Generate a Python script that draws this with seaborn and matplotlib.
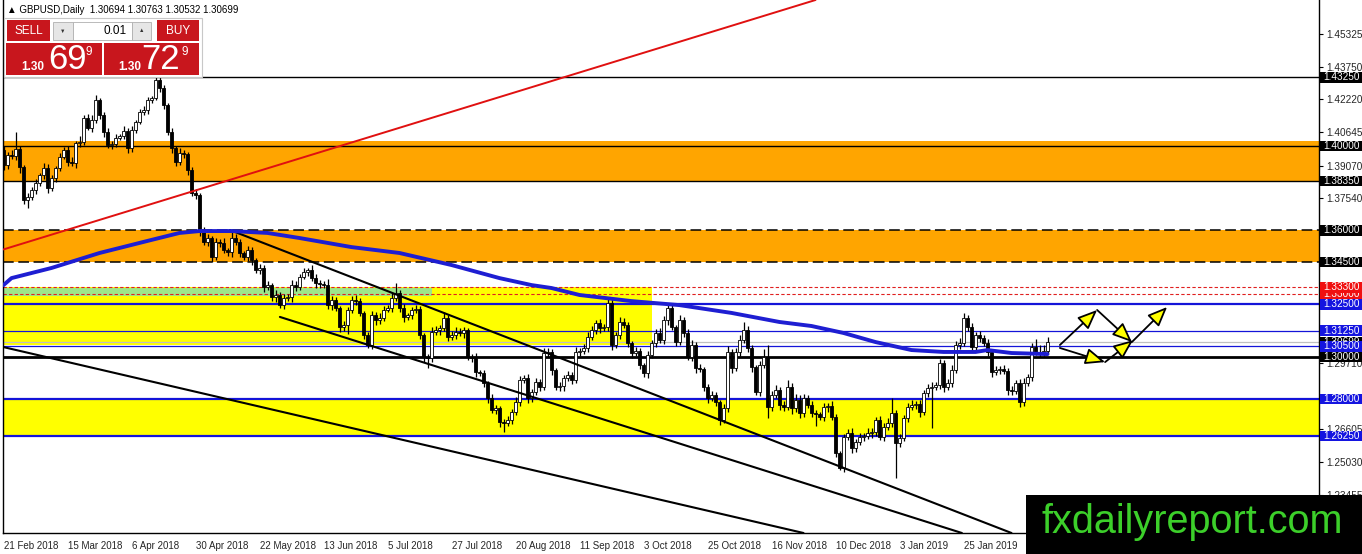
import matplotlib
matplotlib.use("Agg")
import matplotlib.pyplot as plt
import matplotlib.transforms as mtransforms
from matplotlib.patches import Rectangle
import numpy as np
import pandas as pd
import seaborn as sns

# GBPUSD daily candles (21 Feb 2018 .. Feb 2019)
first_open = 1.3981
closes = [
    1.3910, 1.3957, 1.3953, 1.3986, 1.3900, 1.3744, 1.3758, 1.3791, 1.3825, 1.3863,
    1.3896, 1.3801, 1.3848, 1.3896, 1.3948, 1.3981, 1.3924, 1.3920, 1.4014, 1.4018,
    1.4133, 1.4085, 1.4123, 1.4218, 1.4147, 1.4066, 1.4005, 1.4009, 1.4038, 1.4047,
    1.4071, 1.3991, 1.4076, 1.4114, 1.4161, 1.4171, 1.4218, 1.4228, 1.4313, 1.4275,
    1.4194, 1.4066, 1.3991, 1.3924, 1.3967, 1.3962, 1.3886, 1.3777, 1.3768, 1.3602,
    1.3545, 1.3564, 1.3474, 1.3545, 1.3540, 1.3507, 1.3498, 1.3564, 1.3545, 1.3493,
    1.3474, 1.3507, 1.3460, 1.3412, 1.3422, 1.3332, 1.3341, 1.3284, 1.3294, 1.3246,
    1.3280, 1.3284, 1.3341, 1.3332, 1.3379, 1.3403, 1.3412, 1.3374, 1.3351, 1.3348,
    1.3341, 1.3246, 1.3270, 1.3232, 1.3142, 1.3152, 1.3223, 1.3270, 1.3266, 1.3208,
    1.3104, 1.3057, 1.3199, 1.3175, 1.3185, 1.3223, 1.3232, 1.3280, 1.3303, 1.3232,
    1.3189, 1.3199, 1.3223, 1.3226, 1.3104, 1.3000, 1.2995, 1.3118, 1.3128, 1.3137,
    1.3185, 1.3095, 1.3104, 1.3118, 1.3114, 1.3128, 1.3000, 1.2997, 1.2929, 1.2924,
    1.2877, 1.2806, 1.2749, 1.2758, 1.2692, 1.2687, 1.2701, 1.2739, 1.2787, 1.2891,
    1.2900, 1.2806, 1.2834, 1.2881, 1.2858, 1.3019, 1.3024, 1.2938, 1.2858, 1.2862,
    1.2900, 1.2915, 1.2891, 1.3024, 1.3028, 1.3043, 1.3095, 1.3128, 1.3161, 1.3137,
    1.3142, 1.3256, 1.3057, 1.3104, 1.3166, 1.3152, 1.3066, 1.3019, 1.3028, 1.2962,
    1.2924, 1.3009, 1.3066, 1.3114, 1.3080, 1.3175, 1.3232, 1.3142, 1.3071, 1.3175,
    1.3114, 1.3000, 1.3057, 1.2948, 1.2944, 1.2858, 1.2806, 1.2820, 1.2787, 1.2701,
    1.2758, 1.3024, 1.2948, 1.3024, 1.3080, 1.3128, 1.3043, 1.2952, 1.2834, 1.2962,
    1.3000, 1.2763, 1.2820, 1.2843, 1.2772, 1.2763, 1.2858, 1.2758, 1.2796, 1.2734,
    1.2806, 1.2772, 1.2734, 1.2730, 1.2715, 1.2763, 1.2768, 1.2715, 1.2545, 1.2474,
    1.2621, 1.2640, 1.2569, 1.2597, 1.2621, 1.2625, 1.2640, 1.2644, 1.2701, 1.2621,
    1.2668, 1.2687, 1.2734, 1.2592, 1.2616, 1.2711, 1.2763, 1.2772, 1.2776, 1.2739,
    1.2829, 1.2853, 1.2858, 1.2867, 1.2971, 1.2858, 1.2877, 1.2938, 1.3057, 1.3066,
    1.3185, 1.3142, 1.3047, 1.3104, 1.3090, 1.3066, 1.3024, 1.2929, 1.2938, 1.2942,
    1.2935, 1.2843, 1.2839, 1.2877, 1.2787, 1.2877, 1.2905, 1.3047, 1.3024, 1.3019,
    1.3028, 1.3070,
]
# wick lengths above / below the body, in pips
upper_wick = [
    20, 15, 25, 80, 15, 10, 20, 15, 20, 10,
    25, 20, 15, 10, 20, 15, 20, 25, 10, 30,
    15, 20, 25, 24, 10, 15, 20, 15, 20, 10,
    25, 15, 20, 10, 15, 20, 15, 10, 20, 25,
    15, 10, 20, 10, 25, 15, 10, 15, 20, 10,
    15, 20, 10, 20, 15, 25, 10, 30, 20, 15,
    10, 20, 15, 10, 20, 15, 20, 10, 25, 15,
    20, 15, 25, 20, 15, 20, 10, 25, 20, 15,
    10, 30, 20, 15, 10, 20, 15, 20, 25, 15,
    10, 15, 20, 15, 25, 20, 15, 25, 47, 15,
    20, 10, 15, 20, 15, 10, 15, 25, 20, 15,
    30, 15, 20, 25, 20, 15, 10, 15, 20, 10,
    15, 10, 20, 15, 10, 15, 20, 15, 25, 20,
    15, 20, 15, 20, 15, 25, 20, 15, 10, 20,
    15, 20, 15, 25, 15, 20, 25, 20, 15, 20,
    15, 24, 20, 15, 25, 20, 15, 10, 20, 15,
    10, 20, 15, 20, 25, 20, 15, 20, 10, 25,
    15, 20, 25, 15, 20, 10, 15, 20, 15, 10,
    20, 30, 15, 20, 25, 38, 20, 15, 10, 20,
    40, 57, 20, 25, 15, 20, 35, 20, 30, 25,
    20, 15, 20, 15, 10, 20, 15, 25, 15, 10,
    15, 20, 25, 15, 20, 15, 25, 20, 15, 20,
    20, 25, 70, 15, 20, 15, 20, 25, 15, 20,
    15, 20, 25, 15, 20, 15, 20, 25, 20, 25,
    24, 15, 20, 15, 20, 15, 20, 15, 20, 15,
    20, 15, 20, 15, 20, 25, 15, 20, 40, 35,
    30, 25,
]
lower_wick = [
    25, 20, 15, 20, 30, 20, 38, 15, 20, 15,
    20, 25, 15, 20, 15, 10, 20, 15, 25, 20,
    15, 10, 20, 15, 20, 25, 15, 20, 15, 10,
    15, 25, 20, 15, 10, 15, 20, 15, 10, 20,
    20, 15, 25, 20, 15, 20, 25, 15, 20, 30,
    15, 20, 25, 15, 20, 15, 20, 25, 15, 20,
    15, 20, 25, 15, 20, 25, 15, 20, 25, 15,
    20, 15, 25, 20, 15, 10, 20, 15, 25, 20,
    15, 20, 25, 15, 25, 20, 45, 15, 20, 15,
    20, 15, 20, 25, 20, 15, 10, 20, 15, 20,
    25, 15, 20, 15, 20, 25, 47, 20, 15, 25,
    15, 20, 15, 20, 15, 25, 15, 20, 25, 15,
    20, 25, 15, 20, 25, 43, 15, 20, 15, 20,
    15, 25, 20, 15, 20, 15, 20, 25, 15, 20,
    25, 15, 20, 15, 20, 15, 20, 15, 20, 25,
    15, 20, 25, 15, 20, 15, 20, 25, 15, 20,
    20, 25, 15, 20, 15, 20, 25, 15, 20, 15,
    20, 15, 20, 25, 15, 20, 25, 15, 20, 25,
    15, 20, 25, 15, 20, 15, 20, 25, 15, 20,
    15, 50, 20, 15, 25, 20, 15, 30, 20, 25,
    20, 15, 20, 57, 15, 20, 25, 15, 20, 10,
    20, 15, 25, 20, 15, 20, 15, 25, 20, 15,
    20, 15, 20, 166, 20, 15, 20, 15, 20, 25,
    15, 20, 190, 15, 20, 25, 15, 20, 15, 20,
    15, 20, 25, 15, 20, 15, 20, 25, 15, 20,
    15, 25, 20, 15, 24, 20, 15, 20, 15, 20,
    15, 10,
]

date_labels = ['21 Feb 2018', '15 Mar 2018', '6 Apr 2018', '30 Apr 2018', '22 May 2018',
               '13 Jun 2018', '5 Jul 2018', '27 Jul 2018', '20 Aug 2018', '11 Sep 2018',
               '3 Oct 2018', '25 Oct 2018', '16 Nov 2018', '10 Dec 2018', '3 Jan 2019',
               '25 Jan 2019']
date_label_bars = [0, 16, 32, 48, 64, 80, 96, 112, 128, 144, 160, 176, 192, 208, 224, 240]

# moving average readings (bar index, price)
ma_bars = [0, 2, 12, 24, 37, 44, 49, 57, 66, 74, 87, 99, 112, 124, 132, 137, 144,
           157, 169, 182, 194, 202, 210, 218, 227, 235, 243, 246, 252, 261]
ma_vals = [1.3341, 1.3374, 1.3422, 1.3493, 1.3555, 1.3588, 1.3597, 1.3597, 1.3588,
           1.3564, 1.3521, 1.3493, 1.3436, 1.3374, 1.3341, 1.3327, 1.3294, 1.3265,
           1.3246, 1.3209, 1.3166, 1.3147, 1.3114, 1.3071, 1.3033, 1.3024, 1.3024,
           1.3033, 1.3019, 1.3014]

# drawn objects
orange_zones = [(1.3833, 1.4024), (1.3450, 1.3600)]
yellow_zone_low = (1.2625, 1.2800)
yellow_zone_mid = (1.3055, 1.3330, 162)
green_band = (1.3289, 1.3327, 107)
trend_red = [(0, 1.3510), (203, 1.4692)]
trend_black = [[(0, 1.3047), (200, 1.2166)],
               [(56.6, 1.3602), (252, 1.2166)],
               [(69.1, 1.3190), (239.6, 1.2166)]]
arrows = [((264.1, 1.3057), (273.4, 1.3223)), ((273.4, 1.3223), (282.1, 1.3071)),
          ((282.1, 1.3071), (290.9, 1.3237)), ((264.1, 1.3043), (275.4, 1.2976)),
          ((275.4, 1.2976), (282.4, 1.3080))]
axis_ticks = [1.45325, 1.43750, 1.42220, 1.40645, 1.39070, 1.37540, 1.29710,
              1.26605, 1.25030, 1.23455]
level_tags = [(1.4325, 'black'), (1.4000, 'black'), (1.3835, 'black'), (1.3600, 'black'),
              (1.3450, 'black'), (1.3300, 'red'), (1.3330, 'red'), (1.3250, 'blue'),
              (1.3125, 'blue'), (1.30699, 'black'), (1.3050, 'blue'), (1.3000, 'black'),
              (1.2800, 'blue'), (1.2625, 'blue')]

sns.set_style('white')
plt.rcParams['font.family'] = ['Liberation Sans', 'DejaVu Sans']

W, H = 1362, 554
fig = plt.figure(figsize=(W / 100, H / 100), dpi=100)
ax = fig.add_axes([3 / W, 21 / H, 1316 / W, 533 / H])
ax.set_xlim(-0.125, 328.875)
ax.set_ylim(1.2166, 1.4692)

BLUE = '#1414d8'
ORANGE = '#ffa500'
YELLOW = '#ffff00'
tag_colors = {'black': '#000000', 'red': '#f01010', 'blue': '#1414e0'}

df = pd.DataFrame({'close': closes})
df['open'] = [first_open] + closes[:-1]
df['high'] = df[['open', 'close']].max(axis=1) + np.array(upper_wick) / 10000
df['low'] = df[['open', 'close']].min(axis=1) - np.array(lower_wick) / 10000
x = np.arange(len(df))

# zones
for lo, hi in orange_zones:
    ax.axhspan(lo, hi, color=ORANGE, lw=0, zorder=0)
ax.axhspan(*yellow_zone_low, color=YELLOW, lw=0, zorder=0)
ax.fill_between([-0.125, yellow_zone_mid[2]], yellow_zone_mid[0], yellow_zone_mid[1],
                color=YELLOW, lw=0, zorder=0.1)
ax.fill_between([-0.125, green_band[2]], green_band[0], green_band[1],
                color='#9ee68a', lw=0, zorder=0.2)

# horizontal levels
ax.axhline(1.4325, color='black', lw=1, zorder=1)
ax.axhline(1.4000, color='black', lw=1, zorder=1)
ax.axhline(1.3835, color='black', lw=1, zorder=1)
ax.axhline(1.3600, color='black', lw=1.1, ls=(0, (7, 3)), zorder=1)
ax.axhline(1.3450, color='black', lw=1.1, ls=(0, (7, 3)), zorder=1)
ax.axhline(1.3330, color='#e02020', lw=0.8, ls=(0, (3, 2)), zorder=1)
ax.axhline(1.3300, color='#e02020', lw=0.8, ls=(0, (3, 2)), zorder=1)
ax.axhline(1.3250, color=BLUE, lw=1.6, zorder=1)
ax.axhline(1.3125, color=BLUE, lw=0.9, zorder=1)
ax.axhline(1.30699, color='#c0c0c0', lw=0.9, zorder=1)
ax.axhline(1.3050, color=BLUE, lw=0.9, zorder=1)
ax.axhline(1.3000, color='black', lw=2, zorder=1)
ax.axhline(1.2800, color=BLUE, lw=1.6, zorder=1)
ax.axhline(1.2625, color=BLUE, lw=1.6, zorder=1)

# candles
up = (df['close'] >= df['open']).values
ax.vlines(x, df['low'], df['high'], color='black', lw=0.9, zorder=3)
body = (df['close'] - df['open']).values
ax.bar(x[up], body[up], bottom=df['open'].values[up], width=0.62, color='white',
       edgecolor='black', lw=0.6, zorder=4)
ax.bar(x[~up], body[~up], bottom=df['open'].values[~up], width=0.62, color='black',
       edgecolor='black', lw=0.6, zorder=4)

# trend lines and moving average
(rx0, ry0), (rx1, ry1) = trend_red
ax.plot([rx0, rx1], [ry0, ry1], color='#e01010', lw=1.4, zorder=5)
for (x0, y0), (x1, y1) in trend_black:
    ax.plot([x0, x1], [y0, y1], color='black', lw=1.5, zorder=5)
sns.lineplot(x=ma_bars, y=ma_vals, ax=ax, color='#1e1ed2', lw=2.8, zorder=6)

for start, end in arrows:
    ax.annotate('', xy=end, xytext=start,
                arrowprops=dict(arrowstyle='-|>,head_length=1.2,head_width=0.5',
                                fc='#ffff00', ec='black', lw=1.3, shrinkA=0, shrinkB=0),
                zorder=7)

# axes styling
for side in ['left', 'bottom', 'right']:
    ax.spines[side].set_color('black')
    ax.spines[side].set_linewidth(1)
ax.spines['top'].set_visible(False)
ax.set_xticks(date_label_bars)
ax.set_xticklabels(date_labels, ha='left', fontsize=7)
ax.tick_params(axis='x', length=4, width=0.8, pad=1.5, color='black')
ax.yaxis.tick_right()
ax.set_yticks(axis_ticks)
ax.set_yticklabels([f'{v:.5f}' for v in axis_ticks], fontsize=7.2)
ax.tick_params(axis='y', length=3, width=0.8, pad=2, color='black')
ax.set_xlabel('')
ax.set_ylabel('')

# price tags on the right scale, each one drawn over the previous
tag_tr = mtransforms.blended_transform_factory(fig.transFigure, ax.transData)
tag_h = 10.5 / 2110
for k, (price, c) in enumerate(level_tags):
    z = 8 + k
    ax.add_patch(Rectangle((1320 / W, price - tag_h / 2), 42 / W, tag_h, transform=tag_tr,
                           fc=tag_colors[c], ec='none', clip_on=False, zorder=z))
    ax.text(1323 / W, price, f'{price:.5f}', transform=tag_tr, fontsize=7.2,
            color='white', ha='left', va='center', clip_on=False, zorder=z + 0.5)

# overlay: trade panel, header, watermark (pixel coordinates)
ov = fig.add_axes([0, 0, 1, 1], zorder=10)
ov.set_xlim(0, W)
ov.set_ylim(H, 0)
ov.axis('off')

ov.text(7, 10, '\u25b2 GBPUSD,Daily  1.30694 1.30763 1.30532 1.30699', fontsize=7,
        va='center', ha='left', color='black')
ov.add_patch(Rectangle((4, 18), 198, 59, fc='white', ec='#c8c8c8', lw=0.8))
red = '#c8161d'
ov.add_patch(Rectangle((7, 20), 43, 21, fc=red, ec='none'))
ov.text(28.5, 30.5, 'SELL', color='white', fontsize=8.5, ha='center', va='center')
ov.add_patch(Rectangle((157, 20), 42, 21, fc=red, ec='none'))
ov.text(178, 30.5, 'BUY', color='white', fontsize=8.5, ha='center', va='center')
ov.add_patch(Rectangle((53, 22), 20, 18, fc='#e6e6e6', ec='#b0b0b0', lw=0.6))
ov.add_patch(Rectangle((73, 22), 59, 18, fc='white', ec='#b0b0b0', lw=0.6))
ov.add_patch(Rectangle((132, 22), 19, 18, fc='#e6e6e6', ec='#b0b0b0', lw=0.6))
ov.text(63, 31, '\u25bc', fontsize=4, ha='center', va='center', color='#333333')
ov.text(141.5, 31, '\u25b2', fontsize=4, ha='center', va='center', color='#333333')
ov.text(127, 31, '0.01', fontsize=8.5, ha='right', va='center', color='black')
ov.add_patch(Rectangle((6, 43), 96, 32, fc=red, ec='none'))
ov.add_patch(Rectangle((104, 43), 95, 32, fc=red, ec='none'))
ov.text(21, 70, '1.30', fontsize=8.5, color='white', ha='left', va='baseline',
        fontweight='bold')
ov.text(48, 69, '69', fontsize=25, color='white', ha='left', va='baseline')
ov.text(85, 55, '9', fontsize=8.5, color='white', ha='left', va='baseline')
ov.text(118, 70, '1.30', fontsize=8.5, color='white', ha='left', va='baseline',
        fontweight='bold')
ov.text(141, 69, '72', fontsize=25, color='white', ha='left', va='baseline')
ov.text(182, 55, '9', fontsize=8.5, color='white', ha='left', va='baseline')

ov.add_patch(Rectangle((1026, 495), W - 1026, H - 495, fc='black', ec='none'))
ov.text(1042, 533, 'fxdailyreport.com', fontsize=28.5, color='#3ccf2a',
        family='Liberation Sans', ha='left', va='baseline')

fig.savefig('out.png', dpi=100)
